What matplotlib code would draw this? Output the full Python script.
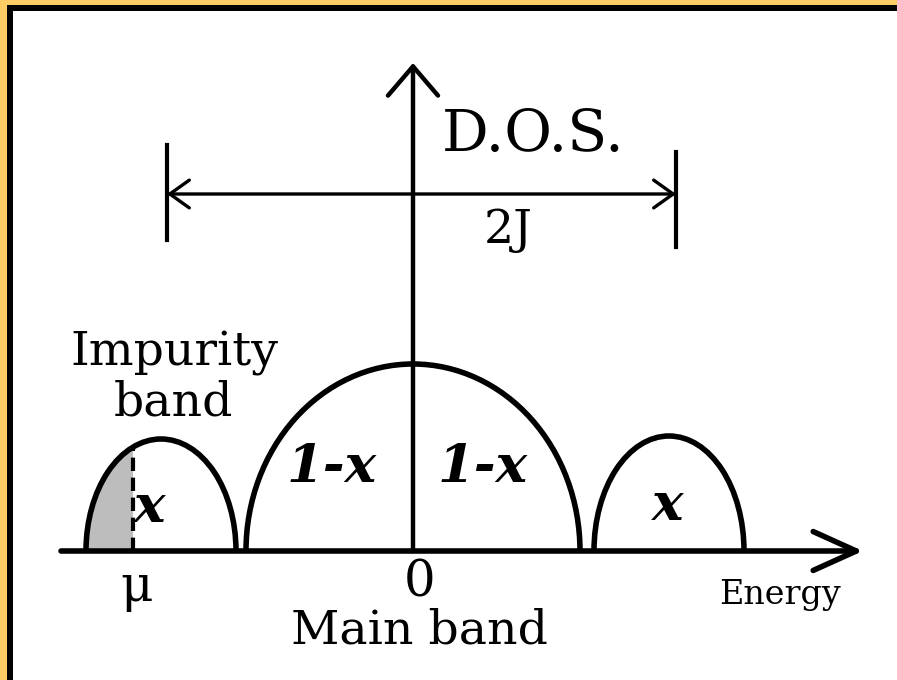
import matplotlib
matplotlib.use("Agg")
import matplotlib.pyplot as plt
import numpy as np
from matplotlib.patches import Arc, Ellipse, Rectangle

# band parameters: centre, half width, peak height (energy units)
band_names = ["impurity_left", "main", "impurity_right"]
band_centers = [-252, 0, 256]
band_halfwidths = [75, 167, 75]
band_heights = [112, 187, 115]
band_labels = ["x", "1-x", "x"]

mu = -280          # chemical potential inside the lower impurity band
j_left, j_right = -246, 263   # ends of the 2J bracket
j_level = 357

plt.rcParams['font.family'] = ['DejaVu Serif']

fig = plt.figure(figsize=(8.97, 6.8), dpi=100)
ax = fig.add_axes([0, 0, 1, 1])
ax.set_xlim(-413, 484)
ax.set_ylim(-129, 551)
ax.axis('off')

lw_band = 4.0

# density of states: semi-elliptic bands
for c, w, h in zip(band_centers, band_halfwidths, band_heights):
    ax.add_patch(Arc((c, 0), 2 * w, 2 * h, theta1=0, theta2=180,
                     lw=lw_band, color='black', zorder=3))

# occupied part of the lower band, up to mu
c0, w0, h0 = band_centers[0], band_halfwidths[0], band_heights[0]
fill = Ellipse((c0, 0), 2 * w0, 2 * h0, facecolor='#bdbdbd', edgecolor='none', zorder=1)
ax.add_patch(fill)
clip = Rectangle((c0 - w0, 0), mu - (c0 - w0), h0 + 5, transform=ax.transData)
fill.set_clip_path(clip)
mu_top = h0 * np.sqrt(1 - ((mu - c0) / w0) ** 2)
ax.plot([mu, mu], [0, mu_top], color='black', lw=3, ls=(0, (3.2, 1.6)), zorder=2)

# energy axis and D.O.S. axis
ax.annotate('', xy=(450, 0), xytext=(-352, 0),
            arrowprops=dict(arrowstyle='->,head_length=3.1,head_width=1.4',
                            lw=4.0, color='black', shrinkA=0, shrinkB=0,
                            mutation_scale=10), zorder=4)
ax.annotate('', xy=(0, 488), xytext=(0, 0),
            arrowprops=dict(arrowstyle='->,head_length=2.1,head_width=1.8',
                            lw=3.2, color='black', shrinkA=0, shrinkB=0,
                            mutation_scale=10), zorder=4)

# 2J bracket
ax.annotate('', xy=(j_left, j_level), xytext=(j_right, j_level),
            arrowprops=dict(arrowstyle='<->,head_length=1.4,head_width=1.0',
                            lw=2.4, color='black', shrinkA=0, shrinkB=0,
                            mutation_scale=10))
ax.plot([j_left, j_left], [311, 406], color='black', lw=3)
ax.plot([j_right, j_right], [304, 399], color='black', lw=3)

# labels
ax.text(120, 416, 'D.O.S.', fontsize=42, ha='center', va='center')
ax.text(95, 321, '2J', fontsize=34, ha='center', va='center')
ax.text(-239, 186, 'Impurity', fontsize=34, ha='center', va='baseline')
ax.text(-240, 136, 'band', fontsize=34, ha='center', va='baseline')

label_pos = [(-263, 44), (-81, 83), (255, 45)]
for (tx, ty), lab in zip(label_pos, band_labels):
    ax.text(tx, ty, lab, fontsize=38, fontweight='bold', style='italic',
            ha='center', va='center', zorder=5)
ax.text(70, 83, band_labels[1], fontsize=38, fontweight='bold', style='italic',
        ha='center', va='center', zorder=5)

ax.text(mu + 4, -36, 'μ', fontsize=36, ha='center', va='center')
ax.text(7, -32, '0', fontsize=36, ha='center', va='center')
ax.text(367, -44, 'Energy', fontsize=24, ha='center', va='center')
ax.text(6, -80, 'Main band', fontsize=34, ha='center', va='center')

# frame on top and left edges
orange = '#FFCC66'
fig.patches.append(Rectangle((0, 0), 7 / 897, 1, transform=fig.transFigure,
                             facecolor=orange, edgecolor='none'))
fig.patches.append(Rectangle((0, 1 - 5 / 680), 1, 5 / 680, transform=fig.transFigure,
                             facecolor=orange, edgecolor='none'))
fig.patches.append(Rectangle((7 / 897, 0), 6 / 897, 1 - 5 / 680, transform=fig.transFigure,
                             facecolor='black', edgecolor='none'))
fig.patches.append(Rectangle((7 / 897, 1 - 11 / 680), 1, 6 / 680, transform=fig.transFigure,
                             facecolor='black', edgecolor='none'))

fig.savefig('out.png', dpi=100)
